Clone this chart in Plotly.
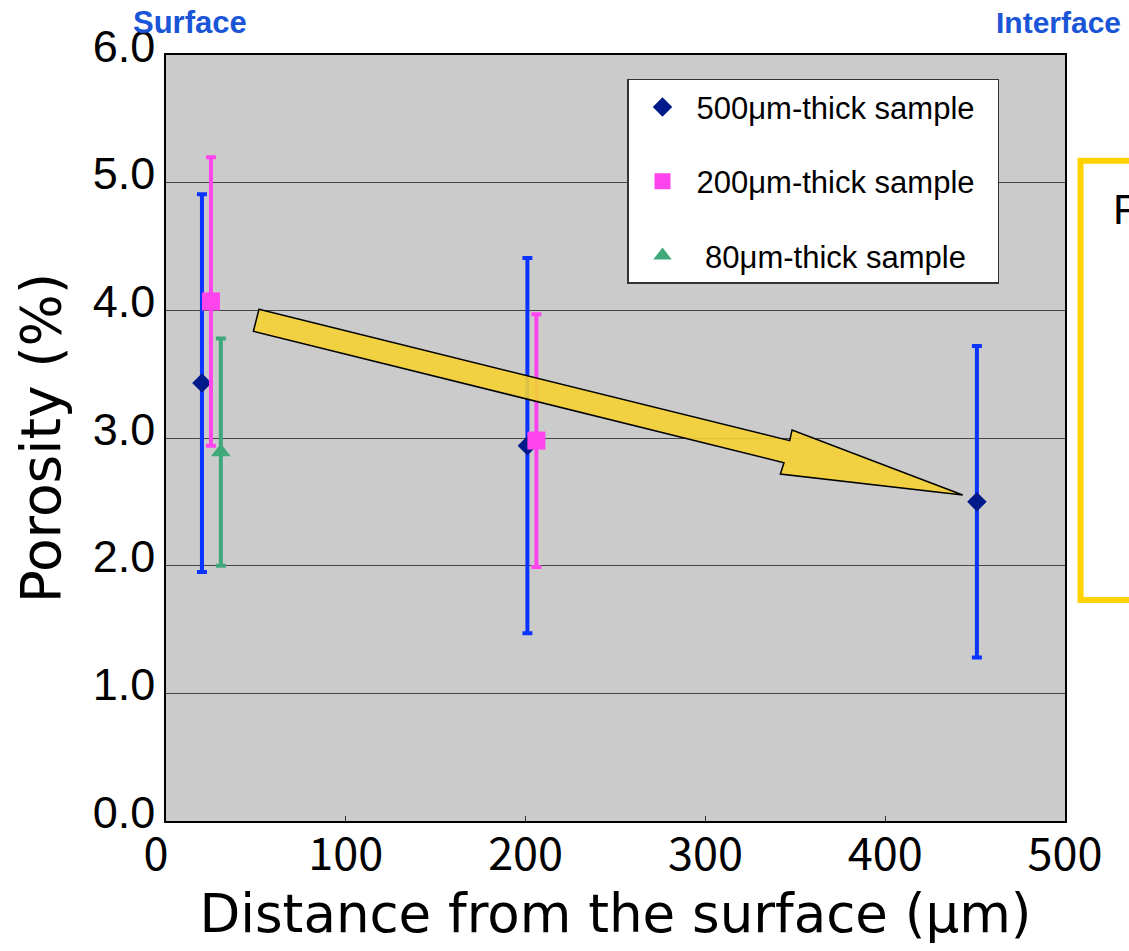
import plotly.graph_objects as go

# ---- data ----
series_names = ["500\u03bcm-thick sample\u00a0\u00a0", "200\u03bcm-thick sample\u00a0\u00a0",
                "\u00a080\u03bcm-thick sample\u00a0\u00a0"]

x_500 = [20, 201, 451]
y_500 = [3.43, 2.94, 2.50]
err_500 = [1.48, 1.47, 1.22]

x_200 = [25, 206]
y_200 = [4.07, 2.98]
err_200 = [1.13, 0.99]

x_80 = [30.5]
y_80 = [2.89]
err_80 = [0.89]

y_tick_vals = [0, 1, 2, 3, 4, 5, 6]
y_tick_text = ["0.0", "1.0", "2.0", "3.0", "4.0", "5.0", "6.0"]
x_tick_vals = [0, 100, 200, 300, 400, 500]
x_tick_text = ["0\u00a0\u00a0", "100", "200", "300", "400", "500"]

# arrow outline (x, y in data units)
arrow_x = [51.7, 346.9, 348.2, 443.1, 341.7, 343.7, 48.6]
arrow_y = [4.008, 2.979, 3.063, 2.553, 2.718, 2.806, 3.836]

fig = go.Figure()

fig.add_trace(go.Scatter(
    x=x_500, y=y_500, mode="markers", name=series_names[0], legendgroup="a",
    marker=dict(symbol="diamond", size=15, color="#001a8c"),
    error_y=dict(type="data", array=err_500, color="#0a34ff", thickness=4, width=5),
))
fig.add_trace(go.Scatter(
    x=x_200, y=y_200, mode="markers", name=series_names[1], legendgroup="b",
    marker=dict(symbol="square", size=18, color="#ff44ee"),
    error_y=dict(type="data", array=err_200, color="#ff44ee", thickness=4, width=5),
))
fig.add_trace(go.Scatter(
    x=x_80, y=y_80, mode="markers", name=series_names[2], legendgroup="c",
    marker=dict(symbol="triangle-up", size=17, color="#3ea87a"),
    error_y=dict(type="data", array=err_80, color="#3ea87a", thickness=4, width=5),
))

path = "M " + " L ".join(f"{x},{y}" for x, y in zip(arrow_x, arrow_y)) + " Z"
fig.add_shape(type="path", path=path, xref="x", yref="y",
              fillcolor="rgba(245,210,50,0.9)", line=dict(color="black", width=1.5),
              layer="above")

# yellow box on the right
fig.add_shape(type="rect", xref="paper", yref="paper",
              x0=1.0173, x1=1.09, y0=0.2885, y1=0.862,
              line=dict(color="#ffd200", width=6), fillcolor="white", layer="above")

fig.add_annotation(text="P", xref="paper", yref="paper", x=1.0515, y=0.7977,
                   xanchor="left", yanchor="middle", showarrow=False,
                   font=dict(family="Liberation Sans", size=42, color="black"))

fig.add_annotation(text="<b>Surface</b>", xref="paper", yref="paper", x=0.0267, y=1.043,
                   xanchor="center", yanchor="middle", showarrow=False,
                   font=dict(family="Liberation Sans", size=31, color="#1a55d8"))
fig.add_annotation(text="<b>Interface</b>", xref="paper", yref="paper", x=0.9933, y=1.043,
                   xanchor="center", yanchor="middle", showarrow=False,
                   font=dict(family="Liberation Sans", size=30, color="#1a55d8"))

fig.update_layout(
    width=1129, height=951,
    margin=dict(l=166, r=64, t=55, b=130),
    paper_bgcolor="white",
    plot_bgcolor="#cbcbcb",
    showlegend=True,
    legend=dict(
        x=0.5128, y=0.969, xanchor="left", yanchor="top",
        bgcolor="white", bordercolor="#333333", borderwidth=1.5,
        font=dict(family="Liberation Sans", size=31, color="black"),
        tracegroupgap=31, itemwidth=58,
    ),
    xaxis=dict(
        range=[0, 500], tickvals=x_tick_vals, ticktext=x_tick_text,
        ticks="inside", ticklen=5, tickcolor="#333333",
        showgrid=False, zeroline=False,
        showline=True, linecolor="black", linewidth=1.5, mirror=True,
        tickfont=dict(family="Noto Sans CJK JP", size=45, color="black"),
        ticklabelstandoff=-7,
        title=dict(text="Distance from the surface (\u03bcm)",
                   font=dict(family="DejaVu Sans", size=53, color="black"),
                   standoff=12),
    ),
    yaxis=dict(
        range=[0, 6], tickvals=y_tick_vals, ticktext=y_tick_text,
        ticks="", showgrid=True, gridcolor="#444444", gridwidth=1.2,
        zeroline=False,
        showline=True, linecolor="black", linewidth=1.5, mirror=True,
        tickfont=dict(family="Liberation Sans", size=45, color="black"),
        ticklabelshift=-9,
        title=dict(text="Porosity (%)",
                   font=dict(family="DejaVu Sans", size=55, color="black"),
                   standoff=14),
    ),
)

fig.write_html("out.html",
               config={"displayModeBar": False},
               post_script="document.body.style.margin='0px';document.body.style.overflow='hidden';")
